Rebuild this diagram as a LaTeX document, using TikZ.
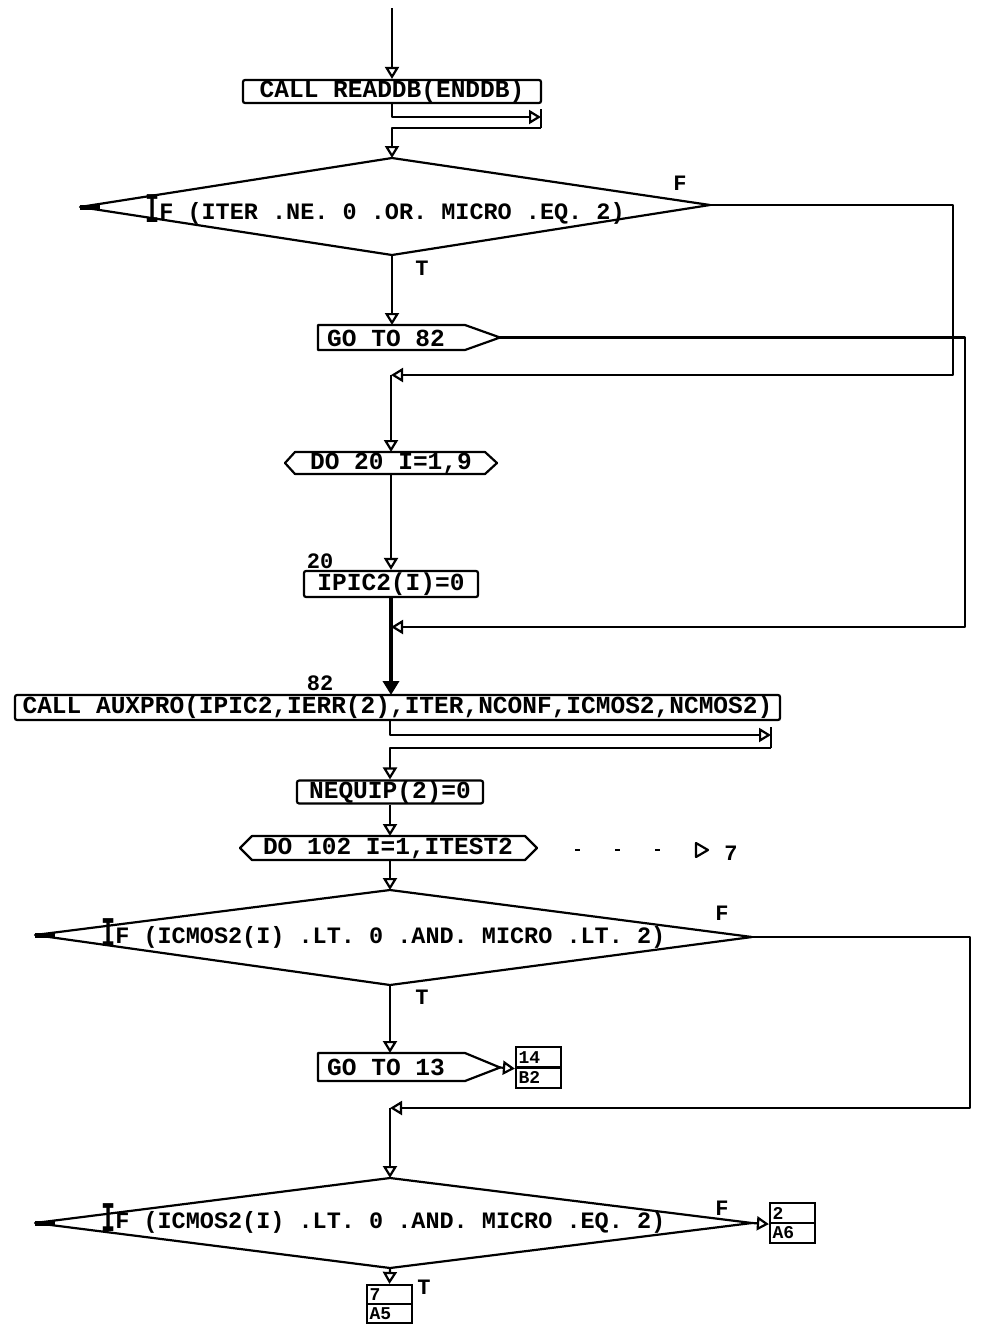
\documentclass[tikz,border=0pt]{standalone}
\usepackage{fontspec}
\setmonofont{Liberation Mono}
\usetikzlibrary{arrows.meta}
\newcommand\flowfont{\fontsize{24.5}{24.5}\selectfont\ttfamily\bfseries}
\newcommand\condfont{\fontsize{23.5}{23.5}\selectfont\ttfamily\bfseries}
\newcommand\labelfont{\fontsize{22}{22}\selectfont\ttfamily\bfseries}
\newcommand\connfont{\fontsize{18}{18}\selectfont\ttfamily\bfseries}
\newcommand\tallI{\raisebox{-3pt}{\scalebox{1}[1.8]{I}}}
\tikzset{
  ln/.style={line width=2.2pt, line join=round},
  arr/.style={ln, -{Triangle[open, length=12pt, width=14pt, line width=2.2pt]}},
  farr/.style={line width=3.6pt, -{Triangle[length=14pt, width=16pt]}},
  box/.style={draw, line width=2.2pt, rounded corners=2pt, inner sep=0pt, font=\flowfont},
  txt/.style={inner sep=0pt, font=\flowfont},
  ctxt/.style={inner sep=0pt, font=\condfont},
  lbl/.style={inner sep=0pt, font=\labelfont},
  cbox/.style={draw, line width=2.2pt, minimum width=45pt, inner xsep=2.5pt, inner ysep=0pt,
    text width=40pt, align=left, font=\connfont},
  stub/.style={line width=5pt},
}
\begin{document}
\begin{tikzpicture}[x=1pt,y=-1pt]
\useasboundingbox (0,0) rectangle (992,1331);

% ---- CALL READDB
\coordinate (start) at (392,8);
\node[box, minimum width=298pt, minimum height=23pt] (readdb) at (392,91.5) {CALL READDB(ENDDB)};
\draw[arr] (start) -- (readdb.north);
\coordinate (e1) at (541,117);
\coordinate (e1top) at (541,109);
\coordinate (e1bot) at (541,128);
\draw[arr] (readdb.south) |- (e1);
\draw[ln] (e1top) -- (e1bot);

% ---- diamond 1
\coordinate (d1l) at (80,207);
\coordinate (d1t) at (392,158);
\coordinate (d1r) at (710,205);
\coordinate (d1b) at (392,255);
\draw[ln] (d1l) -- (d1t) -- (d1r) -- (d1b) -- cycle;
\draw[stub] (d1l) -- (100,207);
\node[ctxt, anchor=base west] (d1txt) at (145,219) {\tallI F (ITER .NE. 0 .OR. MICRO .EQ. 2)};
\draw[arr] (e1bot) -| (d1t);
\node[lbl] (d1F) at (680,183) {F};
\node[lbl] (d1T) at (422,268) {T};

% ---- GO TO 82
\coordinate (g82tip) at (500,337.5);
\coordinate (g82top) at (392,325);
\draw[ln] (318,325) -- (465,325) -- (g82tip) -- (465,350) -- (318,350) -- cycle;
\node[txt, anchor=west] (g82) at (327,338) {GO TO 82};
\draw[arr] (d1b) -- (g82top);

% ---- F branch of diamond 1
\coordinate (j1) at (391,375);
\draw[arr] (d1r) -- (953,205) -- (953,375) -- (j1);

% ---- DO 20
\coordinate (do20t) at (391,452);
\coordinate (do20b) at (391,474);
\draw[ln] (285,463) -- (295,452) -- (485,452) -- (497,463) -- (485,474) -- (295,474) -- cycle;
\node[txt] (do20) at (391,463) {DO 20 I=1,9};
\draw[arr] (j1) -- (do20t);

% ---- IPIC2
\node[box, minimum width=174pt, minimum height=26pt] (ipic) at (391,584) {IPIC2(I)=0};
\node[lbl] (l20) at (320,561) {20};
\draw[arr] (do20b) -- (ipic.north);

% ---- GO TO 82 target line
\coordinate (j2) at (391,627);
\draw[arr] (g82tip) -- (965,337.5) -- (965,627) -- (j2);

% ---- CALL AUXPRO
\node[box, minimum width=765pt, minimum height=25pt] (auxpro) at (397.5,707.5) {CALL AUXPRO(IPIC2,IERR(2),ITER,NCONF,ICMOS2,NCMOS2)};
\node[lbl] (l82) at (320,683) {82};
\coordinate (ipicb) at (391,597);
\coordinate (auxt) at (391,695);
\draw[farr] (ipicb) -- (auxt);
\coordinate (a2) at (390,720);
\coordinate (e2) at (771,735);
\coordinate (e2top) at (771,727);
\coordinate (e2bot) at (771,748);
\draw[arr] (a2) |- (e2);
\draw[ln] (e2top) -- (e2bot);

% ---- NEQUIP
\node[box, minimum width=186pt, minimum height=22pt] (nequip) at (390,792) {NEQUIP(2)=0};
\draw[arr] (e2bot) -| (nequip.north);

% ---- DO 102
\coordinate (do102t) at (390,836);
\coordinate (do102b) at (390,860);
\draw[ln] (240,848) -- (252,836) -- (525,836) -- (537,848) -- (525,860) -- (252,860) -- cycle;
\node[txt] (do102) at (388,848) {DO 102 I=1,ITEST2};
\draw[arr] (nequip.south) -- (do102t);
\draw[ln, dash pattern=on 5pt off 35pt] (575,850) -- (662,850);
\draw[ln] (696,843) -- (708,850) -- (696,857) -- cycle;
\node[lbl] (l7) at (731,853) {7};

% ---- diamond 2
\coordinate (d2l) at (35,935);
\coordinate (d2t) at (390,890);
\coordinate (d2r) at (752,937);
\coordinate (d2b) at (390,985);
\draw[ln] (d2l) -- (d2t) -- (d2r) -- (d2b) -- cycle;
\draw[stub] (d2l) -- (55,935);
\node[ctxt, anchor=base west] (d2txt) at (101,943) {\tallI F (ICMOS2(I) .LT. 0 .AND. MICRO .LT. 2)};
\draw[arr] (do102b) -- (d2t);
\node[lbl] (d2F) at (722,913) {F};
\node[lbl] (d2T) at (422,997) {T};

% ---- GO TO 13
\coordinate (g13tip) at (500,1067.5);
\coordinate (g13top) at (390,1053);
\draw[ln] (318,1053) -- (465,1053) -- (g13tip) -- (465,1081) -- (318,1081) -- cycle;
\node[txt, anchor=west] (g13) at (327,1067.5) {GO TO 13};
\draw[arr] (d2b) -- (g13top);
\node[cbox, minimum height=20.5pt] (c14a) at (538.5,1057.25) {14};
\node[cbox, minimum height=20.5pt] (c14b) at (538.5,1077.75) {B2};
\draw[arr] (g13tip) -- (c14a.south west);

% ---- F branch of diamond 2
\coordinate (j3) at (390,1108);
\draw[arr] (d2r) -- (970,937) -- (970,1108) -- (j3);

% ---- diamond 3
\coordinate (d3l) at (35,1223);
\coordinate (d3t) at (390,1178);
\coordinate (d3r) at (752,1223);
\coordinate (d3b) at (390,1268);
\draw[ln] (d3l) -- (d3t) -- (d3r) -- (d3b) -- cycle;
\draw[stub] (d3l) -- (55,1223);
\node[ctxt, anchor=base west] (d3txt) at (101,1228) {\tallI F (ICMOS2(I) .LT. 0 .AND. MICRO .EQ. 2)};
\draw[arr] (j3) -- (d3t);
\node[lbl] (d3F) at (722,1208) {F};
\node[lbl] (d3T) at (424,1287) {T};
\node[cbox, minimum height=20pt] (c2a) at (792.5,1213) {2};
\node[cbox, minimum height=20pt] (c2b) at (792.5,1233) {A6};
\draw[arr] (d3r) -- (c2a.south west);
\node[cbox, minimum height=19pt] (c7a) at (389.5,1294.5) {7};
\node[cbox, minimum height=19pt] (c7b) at (389.5,1313.5) {A5};
\draw[arr] (d3b) -- (c7a.north);
\end{tikzpicture}
\end{document}
